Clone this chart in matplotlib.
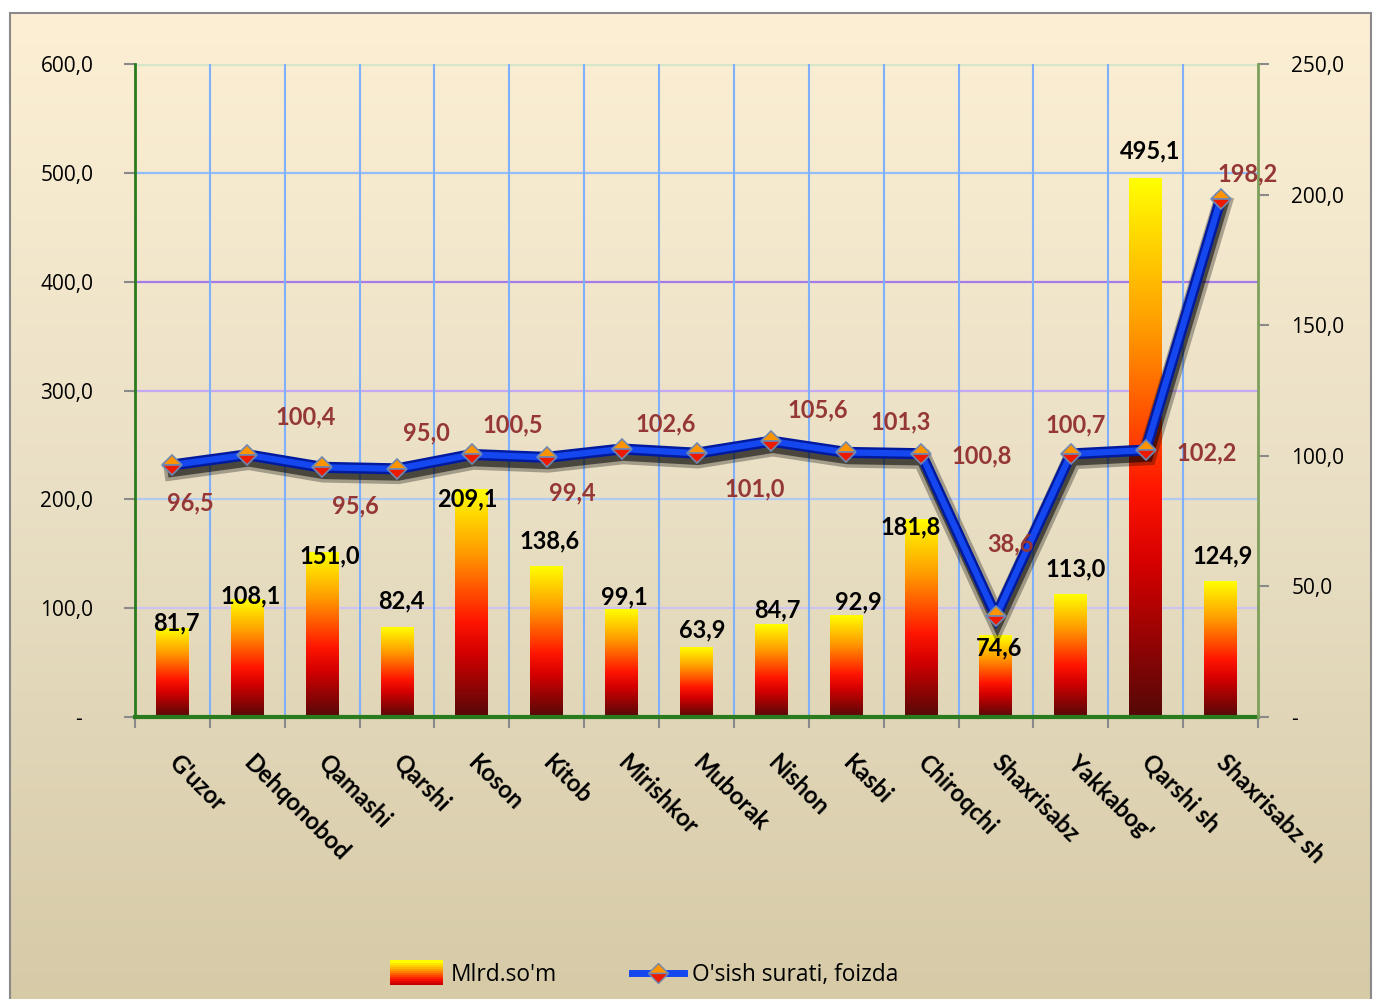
import numpy as np
import matplotlib
matplotlib.use('Agg')
import matplotlib.pyplot as plt
from matplotlib.colors import LinearSegmentedColormap
from matplotlib.patches import Rectangle
from matplotlib.lines import Line2D
from matplotlib.legend_handler import HandlerBase
import matplotlib.patheffects as pe

# data
districts = ["G'uzor", "Dehqonobod", "Qamashi", "Qarshi", "Koson", "Kitob", "Mirishkor",
             "Muborak", "Nishon", "Kasbi", "Chiroqchi", "Shaxrisabz", "Yakkabog'",
             "Qarshi sh", "Shaxrisabz sh"]
volume = [81.7, 108.1, 151.0, 82.4, 209.1, 138.6, 99.1, 63.9, 84.7, 92.9, 181.8, 74.6,
          113.0, 495.1, 124.9]
growth = [96.5, 100.4, 95.6, 95.0, 100.5, 99.4, 102.6, 101.0, 105.6, 101.3, 100.8, 38.6,
          100.7, 102.2, 198.2]
left_ticks = [0, 100, 200, 300, 400, 500, 600]
right_ticks = [0, 50, 100, 150, 200, 250]

# label offsets in pixels (dx, dy)
bar_lbl_off = [(4, 5), (3, 3), (8, -3), (4, 26), (-5, -9), (3, 25), (3, 12), (6, 18),
               (6, 15), (12, 14), (-10, -8), (3, -12), (5, 25), (4, 27), (2, 25)]
line_lbl_off = [(18, -38), (58, 38), (33, -39), (29, 36), (41, 30), (26, -36), (44, 25),
                (58, -36), (46, 31), (54, 30), (61, -2), (14, 72), (5, 29), (61, -3),
                (27, 25)]

def fmt(v):
    return f"{v:.1f}".replace('.', ',')

W, H = 1374, 999
fig = plt.figure(figsize=(W / 100, H / 100), dpi=100)
fig.patch.set_facecolor('white')

# chart background gradient
bg = fig.add_axes([10 / W, 0, (1372 - 10) / W, (H - 13) / H], zorder=-10)
grad = np.linspace(0, 1, 256).reshape(-1, 1)
bg_cmap = LinearSegmentedColormap.from_list('bg', ['#d6caa7', '#e9dfc4', '#fcefd4'])
bg.imshow(grad, aspect='auto', cmap=bg_cmap, origin='lower', extent=(0, 1, 0, 1))
bg.set_axis_off()
fig.patches.append(Rectangle((10 / W, -0.01), (1371 - 10) / W, (H - 13) / H + 0.01,
                             transform=fig.transFigure, fill=False, edgecolor='#8a8a8a',
                             linewidth=1.5, zorder=5))

ax = fig.add_axes([135 / W, 1 - 717 / H, (1258 - 135) / W, (717 - 64) / H])
ax.patch.set_alpha(0)
x = np.arange(len(districts))

# grid
grid_cols = {100: '#cdc3f2', 200: '#b2c9f2', 300: '#c7a8f2', 400: '#a77ae8',
             500: '#93bdfa', 600: '#d6e6c8'}
for v, c in grid_cols.items():
    ax.axhline(v, color=c, lw=2.5 if v == 600 else 1.6, zorder=1)
for b in np.arange(0.5, len(districts) - 1, 1):
    ax.axvline(b, color='#7fb0fb', lw=1.5, zorder=1)

# gradient bars
bar_cmap = LinearSegmentedColormap.from_list(
    'bar', [(0, '#550808'), (0.28, '#d40000'), (0.42, '#ff1500'), (0.72, '#ff9a00'),
            (1, '#ffff00')])
bars = ax.bar(x, volume, width=0.44, color='none', zorder=2)
for r in bars:
    x0, y0 = r.get_x(), r.get_y()
    ax.imshow(grad, extent=(x0, x0 + r.get_width(), y0, y0 + r.get_height()),
              aspect='auto', cmap=bar_cmap, origin='lower', zorder=2)

for i, v in enumerate(volume):
    ax.annotate(fmt(v), (x[i], v), xytext=bar_lbl_off[i], textcoords='offset pixels',
                ha='center', va='center', fontsize=17, fontweight='bold',
                family='Lato', color='black', zorder=10)

ax.set_xlim(-0.5, len(districts) - 0.5)
ax.set_ylim(0, 600)
ax.set_yticks(left_ticks)
ax.set_yticklabels([fmt(t) if t else '-  ' for t in left_ticks])
ax.set_xticks(x)
ax.set_xticklabels(districts, rotation=-45, ha='left', va='center',
                   rotation_mode='anchor', fontsize=17, fontweight='bold', family='Lato')
ax.set_xticks(np.arange(-0.5, len(districts), 1), minor=True)
ax.tick_params(axis='x', which='major', length=0, pad=30)
ax.tick_params(axis='x', which='minor', length=8, color='#8a8a8a', width=1.5)
ax.tick_params(axis='y', length=8, color='#8a8a8a', width=1.5, pad=22, labelsize=15)
for lbl in ax.get_yticklabels():
    lbl.set_family('Open Sans')

for s in ['left', 'bottom']:
    ax.spines[s].set_color('#2a7a1e')
    ax.spines[s].set_linewidth(3 if s == 'bottom' else 2)
ax.spines['top'].set_visible(False)
ax.spines['right'].set_visible(False)

# growth line on secondary axis
ax2 = ax.twinx()
ax2.patch.set_alpha(0)
ax2.plot(x, growth, color='#1547f0', lw=4.5, solid_joinstyle='miter', zorder=3,
         path_effects=[pe.SimpleLineShadow(offset=(1, -4), shadow_color='black',
                                           alpha=0.3, linewidth=14),
                       pe.SimpleLineShadow(offset=(1, -4), shadow_color='black',
                                           alpha=0.55, linewidth=9),
                       pe.Stroke(linewidth=8, foreground='#001a9e'), pe.Normal()])
ax2.plot(x, growth, ls='none', marker='D', markersize=10, fillstyle='top',
         markerfacecolor='#ff9400', markerfacecoloralt='#ee1a00',
         markeredgecolor='#7088b0', mew=1.2, zorder=4)
for i, v in enumerate(growth):
    ax2.annotate(fmt(v), (x[i], v), xytext=line_lbl_off[i], textcoords='offset pixels',
                 ha='center', va='center', fontsize=17, fontweight='bold',
                 family='Lato', color='#953735', zorder=10)
ax2.set_ylim(0, 250)
ax2.set_yticks(right_ticks)
ax2.set_yticklabels([fmt(t) if t else '-' for t in right_ticks])
ax2.tick_params(axis='y', length=8, color='#8a8a8a', width=1.5, pad=16, labelsize=15)
for lbl in ax2.get_yticklabels():
    lbl.set_family('Open Sans')
ax2.spines['right'].set_color('#7fa05a')
ax2.spines['right'].set_linewidth(2)
for s in ['left', 'bottom', 'top']:
    ax2.spines[s].set_visible(False)


# legend
class GradientHandler(HandlerBase):
    def create_artists(self, legend, orig, xd, yd, width, height, fontsize, trans):
        n = 12
        arts = []
        for k in range(n):
            c = bar_cmap(0.25 + 0.75 * k / (n - 1))
            arts.append(Rectangle((xd, yd - 3 + (height + 6) * k / n), width,
                                  (height + 6) / n + 0.3, facecolor=c, edgecolor='none',
                                  transform=trans))
        return arts


bar_handle = Rectangle((0, 0), 1, 1)
line_handle = Line2D([0], [0], color='#1547f0', lw=5, marker='D', markersize=10,
                     fillstyle='top', markerfacecolor='#ff9400',
                     markerfacecoloralt='#ee1a00', markeredgecolor='#7088b0')
fig.legend([bar_handle, line_handle], ["Mlrd.so'm", "O'sish surati, foizda"],
           handler_map={Rectangle: GradientHandler()}, loc='center',
           bbox_to_anchor=(0.469, 0.024), ncol=2, frameon=False,
           prop={'family': 'Open Sans', 'size': 16.4}, handlelength=2.3,
           handletextpad=0.35, columnspacing=3.3)

fig.savefig('out.png', dpi=100)
